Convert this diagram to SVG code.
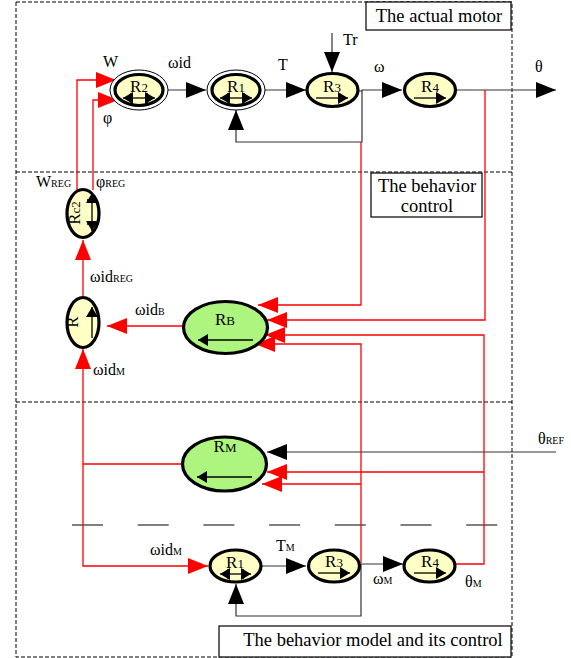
<svg xmlns="http://www.w3.org/2000/svg" width="571" height="658" viewBox="0 0 571 658" font-family="Liberation Serif">
<style>
text{font-family:'Liberation Serif',serif;fill:#000}
.lbl{font-size:16px}
.sub{font-size:10px}
.nd{font-size:17px}
.ns{font-size:13px}
.ttl{font-size:18.5px}
.box{fill:#fff;stroke:#000;stroke-width:1.2}
.dash{fill:none;stroke:#000;stroke-width:1;stroke-dasharray:4 2}
.blk{fill:none;stroke:#333;stroke-width:1.2}
.red{fill:none;stroke:#ff0000;stroke-width:1.3}
.yel{fill:#ffffc6;stroke:#000;stroke-width:3.2}
.grn{fill:#adf57f;stroke:#000;stroke-width:3.2}
.outer{fill:#fff;stroke:#000;stroke-width:1}
.sym{fill:none;stroke:#000;stroke-width:1.3}
</style>
<defs>
<marker id="ab" markerUnits="userSpaceOnUse" markerWidth="20" markerHeight="16" refX="20" refY="8" orient="auto"><path d="M0,0 L20,8 L0,16 z" fill="#000"/></marker>
<marker id="ar" markerUnits="userSpaceOnUse" markerWidth="20" markerHeight="16" refX="20" refY="8" orient="auto"><path d="M0,0 L20,8 L0,16 z" fill="#ff0000"/></marker>
<marker id="sa" markerUnits="userSpaceOnUse" markerWidth="10" markerHeight="12" refX="10" refY="6" orient="auto"><path d="M0,0 L10,6 L0,12 z" fill="#000"/></marker>
<marker id="sas" markerUnits="userSpaceOnUse" markerWidth="10" markerHeight="12" refX="0" refY="6" orient="auto"><path d="M10,0 L0,6 L10,12 z" fill="#000"/></marker>
</defs>

<g id="frames">
<path class="dash" d="M16,2 H512 V657 H16 Z M16,172 H512 M16,402 H512"/>
<path class="dash" d="M72,525 H498" style="stroke-dasharray:31 34.7"/>
</g>

<g id="connectors">
<path class="blk" d="M168,90 H206" marker-end="url(#ab)"/>
<path class="blk" d="M265,90 H306" marker-end="url(#ab)"/>
<path class="blk" d="M332,33 V72" marker-end="url(#ab)"/>
<path class="blk" d="M358,91 H362 V90 H402" marker-end="url(#ab)"/>
<path class="blk" d="M362,91 V142 H236 V110" marker-end="url(#ab)"/>
<path class="blk" d="M456,90 H556" marker-end="url(#ab)"/>
<path class="blk" d="M556,452 H267" marker-end="url(#ab)"/>
<path class="blk" d="M262,566 H306" marker-end="url(#ab)"/>
<path class="blk" d="M361,564 H403" marker-end="url(#ab)"/>
<path class="blk" d="M361,564 V616 H236 V584" marker-end="url(#ab)"/>

<path class="red" d="M77,190 V80 H116" marker-end="url(#ar)"/>
<path class="red" d="M93,190 V100 H118" marker-end="url(#ar)"/>
<path class="red" d="M83,297 V240" marker-end="url(#ar)"/>
<path class="red" d="M183,326 H107" marker-end="url(#ar)"/>
<path class="red" d="M83,464 V349" marker-end="url(#ar)"/>
<path class="red" d="M83,464 V566 H208" marker-end="url(#ar)"/>
<path class="red" d="M182,464 H83"/>
<path class="red" d="M361,142 V305 H258" marker-end="url(#ar)"/>
<path class="red" d="M485,90 V320 H267" marker-end="url(#ar)"/>
<path class="red" d="M456,564 H484 V335 H265" marker-end="url(#ar)"/>
<path class="red" d="M361,563 V344 H255" marker-end="url(#ar)"/>
<path class="red" d="M484,472 H267" marker-end="url(#ar)"/>
<path class="red" d="M361,484 H262" marker-end="url(#ar)"/>
</g>

<g id="labels">
<text class="lbl" x="103" y="67">W</text>
<text class="lbl" x="103" y="123">φ</text>
<text class="lbl" x="168" y="68">ωid</text>
<text class="lbl" x="278" y="70">T</text>
<text class="lbl" x="343" y="45">Tr</text>
<text class="lbl" x="374" y="72">ω</text>
<text class="lbl" x="535" y="72">θ</text>
<text class="lbl" x="36" y="187">W<tspan class="sub">REG</tspan></text>
<text class="lbl" x="96" y="187">φ<tspan class="sub">REG</tspan></text>
<text class="lbl" x="90" y="282">ωid<tspan class="sub">REG</tspan></text>
<text class="lbl" x="135" y="315">ωid<tspan class="sub">B</tspan></text>
<text class="lbl" x="93" y="375">ωid<tspan class="sub">M</tspan></text>
<text class="lbl" x="538" y="444">θ<tspan class="sub">REF</tspan></text>
<text class="lbl" x="150" y="555">ωid<tspan class="sub">M</tspan></text>
<text class="lbl" x="276" y="551">T<tspan class="sub">M</tspan></text>
<text class="lbl" x="373" y="584">ω<tspan class="sub">M</tspan></text>
<text class="lbl" x="465" y="587">θ<tspan class="sub">M</tspan></text>
</g>

<g id="title-motor">
<rect class="box" x="366" y="2" width="145" height="28"/>
<text class="ttl" x="439" y="22" text-anchor="middle">The actual motor</text>
</g>
<g id="title-control">
<rect class="box" x="371" y="173" width="111" height="44"/>
<text class="ttl" x="427" y="192" text-anchor="middle">The behavior</text>
<text class="ttl" x="427" y="212" text-anchor="middle">control</text>
</g>
<g id="title-model">
<rect class="box" x="219" y="626" width="292" height="31"/>
<text class="ttl" x="373" y="646" text-anchor="middle">The behavior model and its control</text>
</g>

<g id="R2">
<ellipse class="outer" cx="139" cy="90" rx="29" ry="20"/>
<ellipse class="yel" cx="139" cy="90" rx="24" ry="15.5"/>
<text class="nd" x="139" y="92" text-anchor="middle">R<tspan class="ns">2</tspan></text>
<path class="sym" d="M123,98 H155" marker-start="url(#sas)" marker-end="url(#sa)"/>
<path class="sym" d="M131,93 V103 M147,93 V103"/>
</g>
<g id="R1">
<ellipse class="outer" cx="236" cy="90" rx="29" ry="20"/>
<ellipse class="yel" cx="236" cy="90" rx="24" ry="15.5"/>
<text class="nd" x="236" y="92" text-anchor="middle">R<tspan class="ns">1</tspan></text>
<path class="sym" d="M220,98 H252" marker-start="url(#sas)" marker-end="url(#sa)"/>
<path class="sym" d="M228,93 V103 M244,93 V103"/>
</g>
<g id="R3">
<ellipse class="yel" cx="332.5" cy="90" rx="25.5" ry="16.5"/>
<text class="nd" x="332" y="92" text-anchor="middle">R<tspan class="ns">3</tspan></text>
<path class="sym" d="M316,98 H348" marker-end="url(#sa)"/>
</g>
<g id="R4">
<ellipse class="yel" cx="430" cy="90" rx="25.5" ry="16.5"/>
<text class="nd" x="430" y="92" text-anchor="middle">R<tspan class="ns">4</tspan></text>
<path class="sym" d="M414,98 H446" marker-end="url(#sa)"/>
</g>

<g id="Rc2">
<ellipse class="yel" cx="83" cy="213.5" rx="16" ry="24"/>
<text class="nd" transform="translate(80,213) rotate(-90)" text-anchor="middle">R<tspan class="ns">c2</tspan></text>
<path class="sym" d="M92,193 V231" marker-start="url(#sas)" marker-end="url(#sa)"/>
<path class="sym" d="M87,200 H97 M87,224 H97"/>
</g>
<g id="R">
<ellipse class="yel" cx="83" cy="322.5" rx="16" ry="25"/>
<text class="nd" transform="translate(78,322) rotate(-90)" text-anchor="middle">R</text>
<path class="sym" d="M92,338 V307" marker-end="url(#sa)"/>
</g>

<g id="RB">
<ellipse class="grn" cx="225.5" cy="327.5" rx="42" ry="26"/>
<text class="nd" x="225" y="325" text-anchor="middle">R<tspan class="ns">B</tspan></text>
<path class="sym" d="M253,340 H198" marker-end="url(#sa)"/>
</g>
<g id="RM">
<ellipse class="grn" cx="224.5" cy="464" rx="42" ry="27"/>
<text class="nd" x="225" y="452" text-anchor="middle">R<tspan class="ns">M</tspan></text>
<path class="sym" d="M252,477 H197" marker-end="url(#sa)"/>
</g>

<g id="R1m">
<ellipse class="yel" cx="235.5" cy="566" rx="25.5" ry="16"/>
<text class="nd" x="235" y="568" text-anchor="middle">R<tspan class="ns">1</tspan></text>
<path class="sym" d="M220,574 H251" marker-start="url(#sas)" marker-end="url(#sa)"/>
<path class="sym" d="M228,569 V579 M243,569 V579"/>
</g>
<g id="R3m">
<ellipse class="yel" cx="334" cy="566" rx="25.5" ry="16"/>
<text class="nd" x="334" y="567" text-anchor="middle">R<tspan class="ns">3</tspan></text>
<path class="sym" d="M318,573 H350" marker-end="url(#sa)"/>
</g>
<g id="R4m">
<ellipse class="yel" cx="429.5" cy="566" rx="25.5" ry="16"/>
<text class="nd" x="430" y="567" text-anchor="middle">R<tspan class="ns">4</tspan></text>
<path class="sym" d="M414,573 H446" marker-end="url(#sa)"/>
</g>
</svg>
